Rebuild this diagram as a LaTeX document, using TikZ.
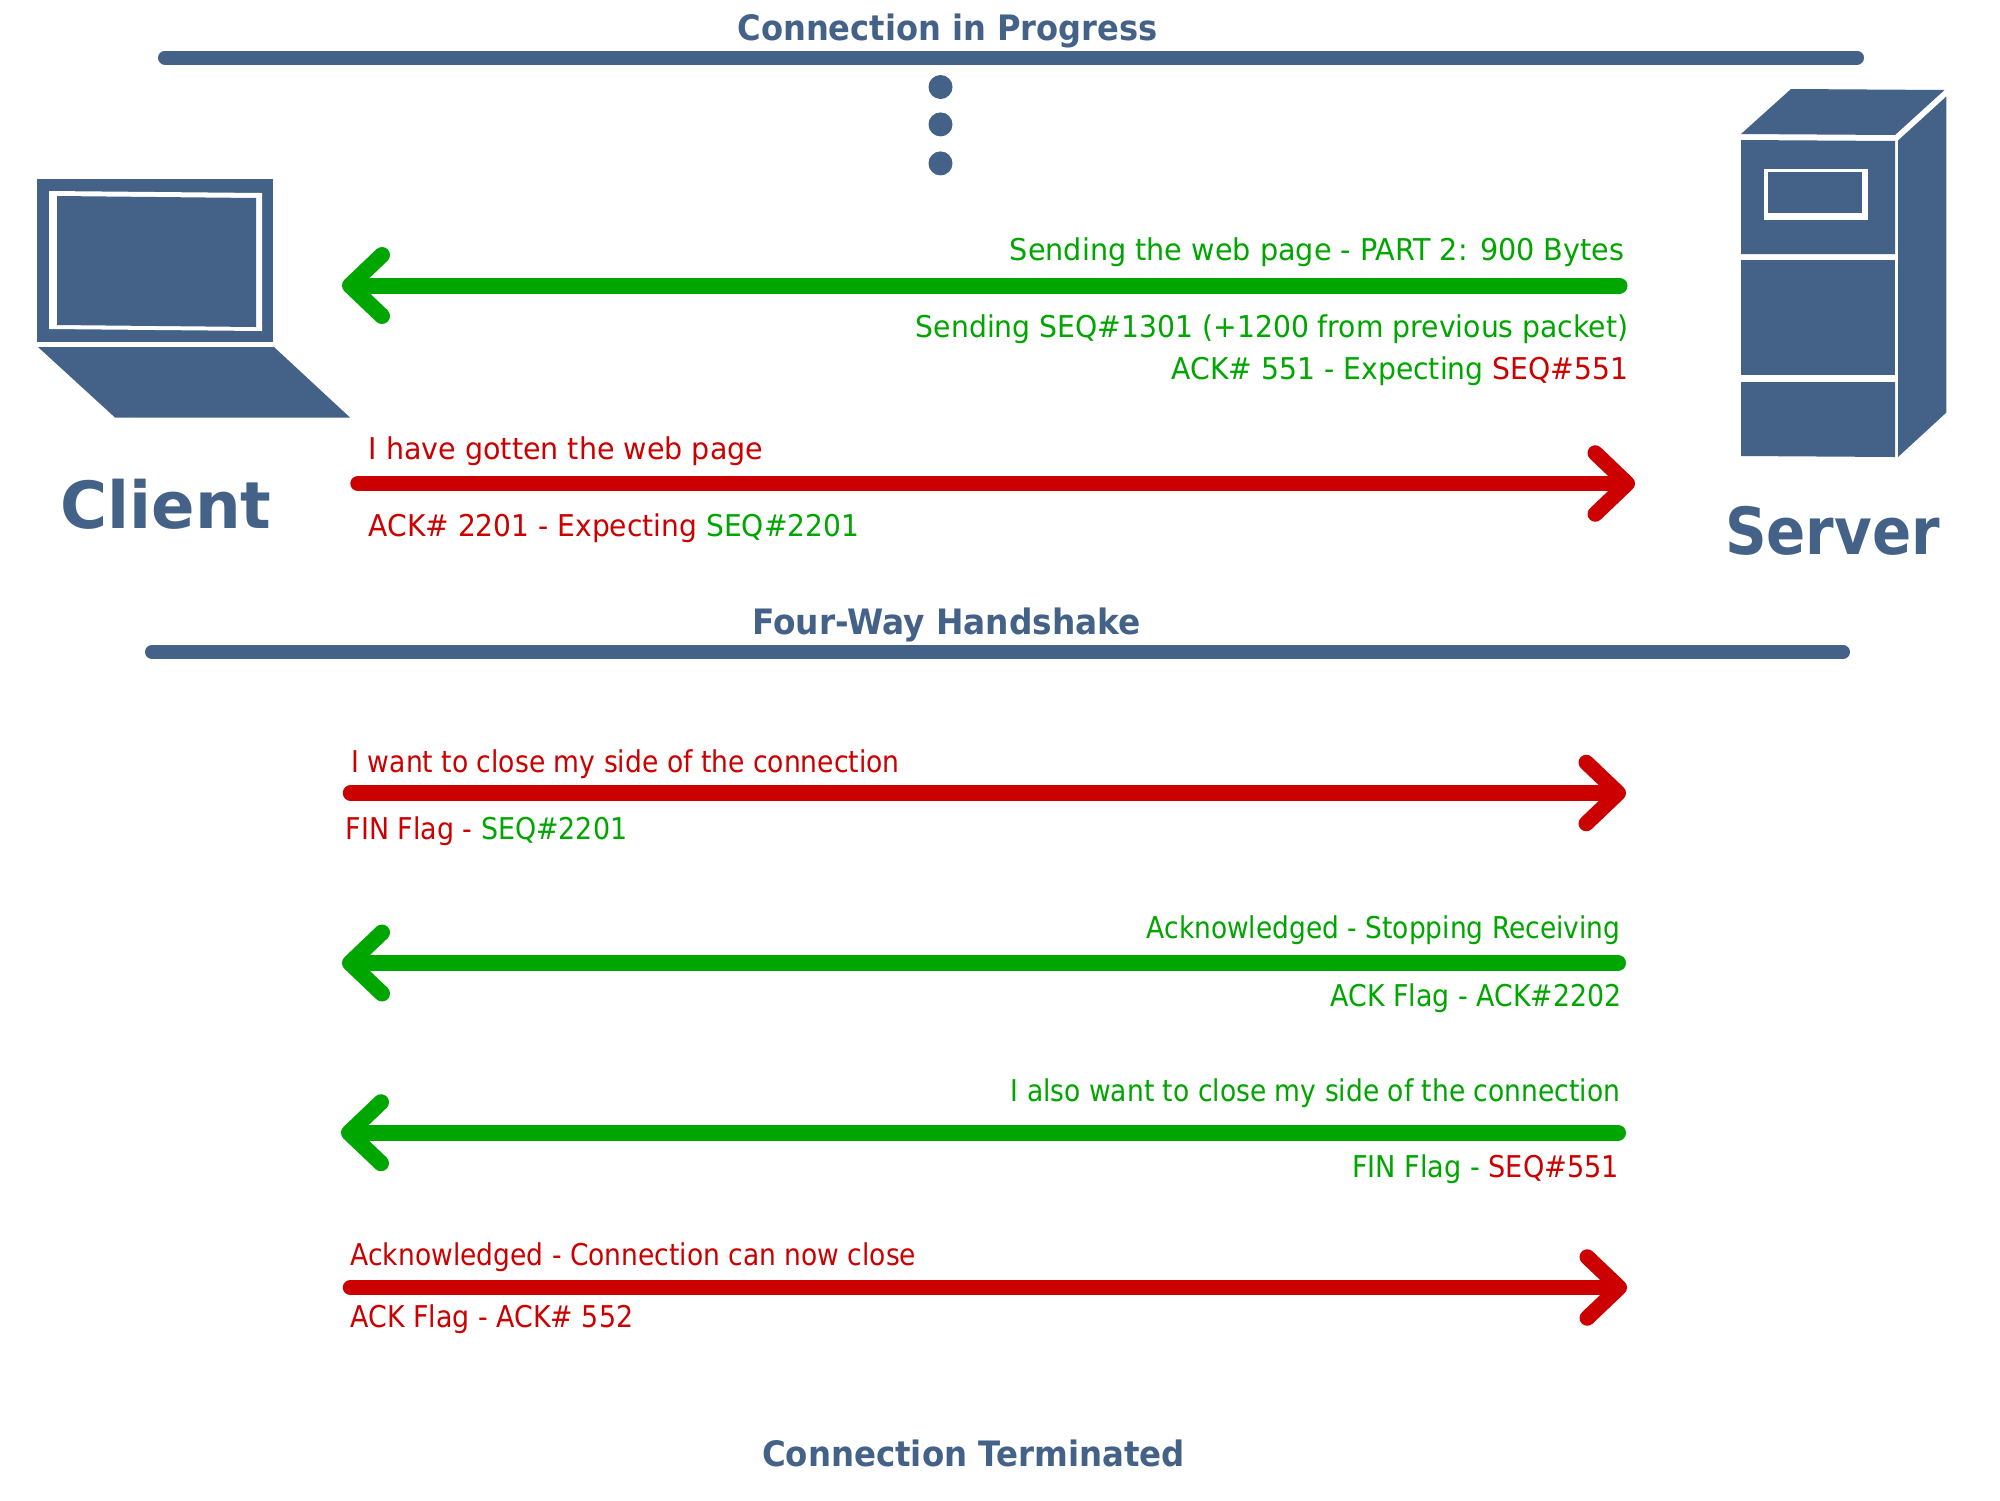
\documentclass[tikz,border=0pt]{standalone}
\usepackage{fontspec}
\usepackage{graphicx}
\setmainfont{DejaVu Sans}
\usetikzlibrary{arrows.meta}
\definecolor{navy}{HTML}{446288}
\definecolor{redc}{HTML}{CC0000}
\definecolor{greenc}{HTML}{00A600}
\newcommand{\fitw}[2]{\resizebox{#1pt}{\height}{#2}}
\newcommand{\rd}[1]{\textcolor{redc}{#1}}
\newcommand{\gn}[1]{\textcolor{greenc}{#1}}
\tikzset{
  lbl/.style={inner sep=0pt,outer sep=0pt,font=\fontsize{30pt}{30pt}\selectfont},
  hd/.style={inner sep=0pt,outer sep=0pt,text=navy,font=\fontsize{35pt}{35pt}\selectfont\bfseries},
  bigt/.style={inner sep=0pt,outer sep=0pt,text=navy,font=\fontsize{65pt}{65pt}\selectfont\bfseries},
  bar/.style={draw=navy,line width=14pt,line cap=round},
  flow/.style={line width=16pt,line cap=round,-{Straight Barb[length=32pt,width=61pt,round]}},
  redflow/.style={flow,draw=redc,line width=15.5pt},
  greenflow/.style={flow,draw=greenc},
  solid navy/.style={fill=navy,draw=none}
}
\begin{document}
\begin{tikzpicture}[x=1pt,y=-1pt]
\useasboundingbox (0,0) rectangle (2000,1500);
\fill[white] (0,0) rectangle (2000,1500);

% section bars
\coordinate (b1a) at (165,57.5); \coordinate (b1b) at (1857,57.5);
\draw[bar] (b1a) -- (b1b);
\coordinate (b2a) at (152,652); \coordinate (b2b) at (1843,652);
\draw[bar] (b2a) -- (b2b);

% dots
\fill[navy] (940.5,87) circle (12);
\fill[navy] (940.5,124.4) circle (12);
\fill[navy] (940.5,163.4) circle (12);

% laptop
\fill[navy] (37,179) rectangle (273,342);
\fill[white] (49,191) -- (262,193) -- (262,331) -- (49,329) -- cycle;
\fill[navy] (57,196) -- (256,198) -- (256,327) -- (57,325) -- cycle;
\fill[navy] (38,347) -- (274,347) -- (350,417.5) -- (115,417.5) -- cycle;

% server
\fill[navy] (1741,134) -- (1791,89) -- (1944.5,90) -- (1895,135) -- cycle;
\fill[navy] (1898,140.5) -- (1946.4,96.4) -- (1946.4,412.5) -- (1898,457) -- cycle;
\fill[navy] (1741,140) -- (1895,141) -- (1895,254) -- (1741,254) -- cycle;
\fill[navy] (1741,259.5) -- (1895,259.5) -- (1895,375) -- (1741,375) -- cycle;
\fill[navy] (1741,382) -- (1895,382) -- (1895,457) -- (1741,456) -- cycle;
\fill[white] (1764,169) rectangle (1868,220);
\fill[navy] (1768,172) rectangle (1862,213);

% titles
\node[hd,anchor=base west] (t1) at (737.5,40.5) {\fitw{420}{Connection in Progress}};
\node[hd,anchor=base west] (t2) at (752,634.5) {\fitw{389}{Four-Way Handshake}};
\node[hd,anchor=base west] (t3) at (762,1466.5) {\fitw{423}{Connection Terminated}};
\node[bigt,anchor=base west] (client) at (60.5,528) {\fitw{211}{Client}};
\node[bigt,anchor=base west] (server) at (1725,554.5) {\fitw{215}{Server}};

% arrow end points
\coordinate (g1s) at (1619.5,285.5);  \coordinate (g1e) at (342,285.5);
\coordinate (r1s) at (358,483.5);     \coordinate (r1e) at (1635,483.5);
\coordinate (r2s) at (350.5,793);     \coordinate (r2e) at (1626,793);
\coordinate (g2s) at (1618,963);      \coordinate (g2e) at (342,963);
\coordinate (g3s) at (1618,1132.7);   \coordinate (g3e) at (341,1132.7);
\coordinate (r3s) at (350.5,1287.5);  \coordinate (r3e) at (1627,1287.5);

\draw[greenflow] (g1s) -- (g1e);
\draw[redflow]   (r1s) -- (r1e);
\draw[redflow]   (r2s) -- (r2e);
\draw[greenflow] (g2s) -- (g2e);
\draw[greenflow] (g3s) -- (g3e);
\draw[redflow]   (r3s) -- (r3e);

% labels
\node[lbl,anchor=base east] (l1) at (1624.3,260) {\fitw{614.5}{\gn{Sending the web page - PART 2: 900 Bytes}}};
\node[lbl,anchor=base east] (l2) at (1628.3,337) {\fitw{712.5}{\gn{Sending SEQ\#1301 (+1200 from previous packet)}}};
\node[lbl,anchor=base east] (l3) at (1628.3,379) {\fitw{456.5}{\gn{ACK\# 551 - Expecting }\rd{SEQ\#551}}};
\node[lbl,anchor=base west] (l4) at (368.7,459.5) {\fitw{394.5}{\rd{I have gotten the web page}}};
\node[lbl,anchor=base west] (l5) at (368.7,536.5) {\fitw{490.5}{\rd{ACK\# 2201 - Expecting }\gn{SEQ\#2201}}};
\node[lbl,anchor=base west] (l6) at (351.7,772.2) {\fitw{548}{\rd{I want to close my side of the connection}}};
\node[lbl,anchor=base west] (l7) at (345.7,839) {\fitw{281.5}{\rd{FIN Flag - }\gn{SEQ\#2201}}};
\node[lbl,anchor=base east] (l8) at (1620.3,938) {\fitw{473.5}{\gn{Acknowledged - Stopping Receiving}}};
\node[lbl,anchor=base east] (l9) at (1621.3,1006.7) {\fitw{290.5}{\gn{ACK Flag - ACK\#2202}}};
\node[lbl,anchor=base east] (l10) at (1620.3,1101) {\fitw{609.5}{\gn{I also want to close my side of the connection}}};
\node[lbl,anchor=base east] (l11) at (1619,1177.5) {\fitw{267}{\gn{FIN Flag - }\rd{SEQ\#551}}};
\node[lbl,anchor=base west] (l12) at (350.7,1265.9) {\fitw{565.5}{\rd{Acknowledged - Connection can now close}}};
\node[lbl,anchor=base west] (l13) at (350.7,1327) {\fitw{282.5}{\rd{ACK Flag - ACK\# 552}}};
\end{tikzpicture}
\end{document}
